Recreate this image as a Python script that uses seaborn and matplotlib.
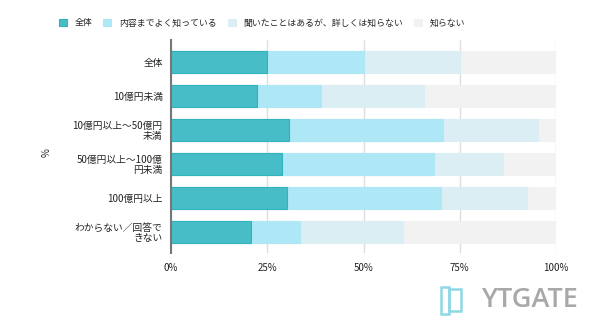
import matplotlib
matplotlib.use("Agg")
import matplotlib.pyplot as plt
from matplotlib.patches import Patch, Rectangle
import seaborn as sns
import pandas as pd
import numpy as np

categories = ["全体", "10億円未満", "10億円以上～50億円\n未満", "50億円以上～100億\n円未満",
              "100億円以上", "わからない／回答で\nきない"]
series_names = ["全体", "内容までよく知っている", "聞いたことはあるが、詳しくは知らない", "知らない"]
s1 = [25.0, 22.4, 30.6, 28.7, 30.0, 20.9]
s2 = [25.0, 16.5, 40.0, 39.5, 40.0, 12.5]
s3 = [25.0, 26.8, 24.6, 17.9, 22.5, 26.9]
s4 = [25.0, 34.3, 4.8, 13.9, 7.5, 39.7]
colors = ["#47BDC7", "#AEE7F6", "#DBEEF4", "#F2F2F2"]
edges = ["#2FB3BE", "#AEE7F6", "#DBEEF4", "#F2F2F2"]
xticks = [0, 25, 50, 75, 100]
xticklabels = ["0%", "25%", "50%", "75%", "100%"]

sns.set_theme(style="white")
plt.rcParams["font.family"] = ["Noto Sans CJK JP", "DejaVu Sans"]

fig = plt.figure(figsize=(6, 3.3), dpi=100)
ax = fig.add_axes([0.285, 0.2333, 0.6417, 0.6455])

vals = np.array([s1, s2, s3, s4])
cum = np.cumsum(vals, axis=0)
for i in range(3, -1, -1):
    df = pd.DataFrame({"cat": categories, "v": cum[i]})
    sns.barplot(data=df, x="v", y="cat", orient="h", color=colors[i], width=0.65,
                saturation=1, edgecolor=edges[i], linewidth=0.8, ax=ax, zorder=2)

ax.set_xlim(0, 100)
ax.set_ylim(5.63, -0.65)
ax.set_xticks(xticks)
ax.set_xticklabels(xticklabels, fontsize=7, color="#222222")
ax.tick_params(axis="x", length=3, color="#dddddd", width=1, pad=4)
ax.tick_params(axis="y", length=0, pad=6, labelsize=7, labelcolor="#222222")
for lab in ax.get_yticklabels():
    lab.set_horizontalalignment("right")
    lab.set_multialignment("right")
    lab.set_linespacing(1.0)
ax.xaxis.grid(True, color="#dddddd", linewidth=1)
ax.set_axisbelow(True)
for sp in ["top", "right", "bottom"]:
    ax.spines[sp].set_visible(False)
ax.spines["left"].set_color("#777777")
ax.spines["left"].set_linewidth(1.5)
ax.spines["left"].set_zorder(5)
ax.set_xlabel("")
ax.set_ylabel("")
fig.text(47 / 600, 1 - 153 / 330, "%", rotation=90, ha="center", va="center", fontsize=7, color="#222222")

handles = [Patch(facecolor=colors[i], edgecolor=edges[i], linewidth=0.8) for i in range(4)]
fig.legend(handles, series_names, loc="center", bbox_to_anchor=(0.437, 1 - 23 / 330), ncol=4,
           frameon=False, fontsize=6.4, handlelength=0.9, handleheight=0.9, handletextpad=0.9,
           columnspacing=1.2)

# watermark
fig.patches.append(Rectangle((441 / 600, 1 - 314 / 330), 8 / 600, 27 / 330, transform=fig.transFigure,
                             fill=False, edgecolor="#8ED8E6", linewidth=1.8))
fig.patches.append(Rectangle((449 / 600, 1 - 311 / 330), 12 / 600, 22 / 330, transform=fig.transFigure,
                             fill=False, edgecolor="#8ED8E6", linewidth=1.8))
fig.text(481 / 600, 1 - 300 / 330, "YTGATE", fontsize=19.5, color="#A8A8A8", family="Open Sans",
         weight="semibold", ha="left", va="center")

fig.savefig("out.png", dpi=100)
